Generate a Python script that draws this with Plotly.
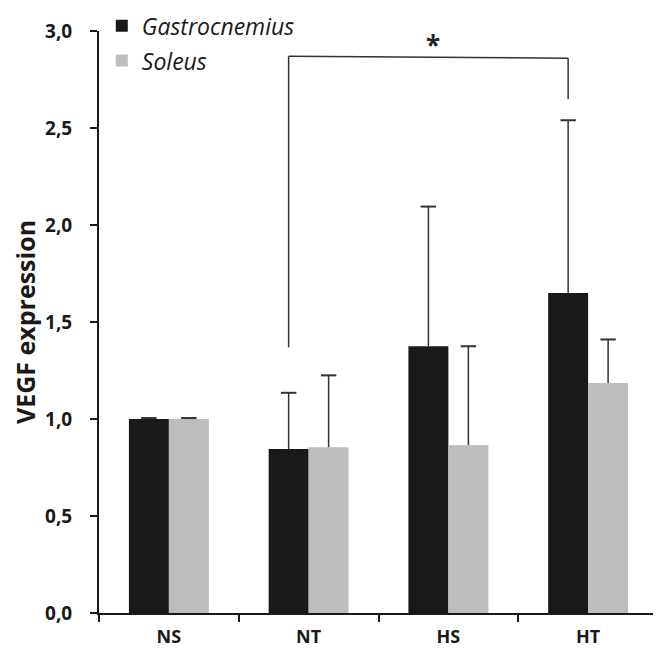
import plotly.graph_objects as go

categories = ["NS", "NT", "HS", "HT"]
gastro_mean = [1.0, 0.845, 1.375, 1.65]
gastro_err = [0.005, 0.29, 0.72, 0.89]
soleus_mean = [1.0, 0.855, 0.865, 1.185]
soleus_err = [0.005, 0.37, 0.51, 0.225]
y_ticks = [0, 0.5, 1.0, 1.5, 2.0, 2.5, 3.0]

BARGAP = 0.428
half = (1 - BARGAP) / 4  # offset of each bar center from category center
idx = list(range(len(categories)))

fig = go.Figure()
fig.add_trace(go.Bar(
    x=categories, y=gastro_mean, name="Gastrocnemius",
    marker=dict(color="#1a1918", line=dict(width=0)),
    legendgroup="g",
))
fig.add_trace(go.Bar(
    x=categories, y=soleus_mean, name="Soleus",
    marker=dict(color="#bcbdbf", line=dict(width=0)),
    legendgroup="s",
))

# upward-only error bars (stem + top cap) on an overlaid numeric axis
for means, errs, sign in [(gastro_mean, gastro_err, -1), (soleus_mean, soleus_err, 1)]:
    fig.add_trace(go.Scatter(
        x=[i + sign * half for i in idx],
        y=[m + e for m, e in zip(means, errs)],
        xaxis="x2", mode="markers", showlegend=False, hoverinfo="skip",
        marker=dict(symbol="line-ew", size=11, color="#333333",
                    line=dict(color="#333333", width=2)),
        error_y=dict(type="data", symmetric=False, array=[0] * len(errs), arrayminus=errs,
                     color="#333333", thickness=1.5, width=0),
    ))

# significance bracket NT (gastro) vs HT (gastro)
xl = 1 - half
xr = 3 - half
bracket_top = 2.87
line_style = dict(color="#333333", width=1.5)
fig.add_shape(type="line", xref="x2", yref="y", x0=xl, x1=xl, y0=1.37, y1=bracket_top, line=line_style)
fig.add_shape(type="line", xref="x2", yref="y", x0=xl, x1=xr, y0=bracket_top, y1=bracket_top - 0.01, line=line_style)
fig.add_shape(type="line", xref="x2", yref="y", x0=xr, x1=xr, y0=bracket_top - 0.01, y1=2.65, line=line_style)
fig.add_annotation(x=(xl + xr) / 2 + 0.036, y=2.93, xref="x2", yref="y", text="<b>*</b>",
                   showarrow=False, font=dict(size=26, color="#222222", family="Open Sans"))

fig.update_layout(
    width=653, height=643,
    margin=dict(l=91, r=3, t=23, b=38, autoexpand=False),
    paper_bgcolor="white", plot_bgcolor="white",
    separators=",.",
    barmode="group", bargap=BARGAP, bargroupgap=0,
    font=dict(family="Open Sans", color="#1a1a1a"),
    showlegend=True,
    legend=dict(
        x=0.005, y=1.046, xanchor="left", yanchor="top",
        font=dict(size=23, style="italic", color="#1a1a1a"),
        traceorder="grouped", tracegroupgap=2,
        bgcolor="rgba(0,0,0,0)", itemwidth=30,
    ),
    xaxis=dict(
        range=[-0.5, 3.5], automargin=False,
        showline=True, linecolor="#1a1a1a", linewidth=2,
        ticks="outside", tickson="boundaries", ticklen=7, tickwidth=2, tickcolor="#1a1a1a",
        showgrid=False, ticklabelstandoff=6,
        tickfont=dict(size=18, family="Open Sans", weight="bold", color="#1a1a1a"),
    ),
    xaxis2=dict(overlaying="x", range=[-0.5, 3.5], visible=False),
    yaxis=dict(
        range=[0, 3], tickvals=y_ticks, tickformat=".1f", automargin=False,
        showline=True, linecolor="#1a1a1a", linewidth=2,
        ticks="outside", ticklen=7, tickwidth=2, tickcolor="#1a1a1a",
        showgrid=False, zeroline=False, ticklabelstandoff=14,
        tickfont=dict(size=19, family="Open Sans", weight="bold", color="#1a1a1a"),
        title=dict(text="<b>VEGF expression</b>", font=dict(size=25, family="Open Sans", color="#1a1a1a"), standoff=2),
    ),
)

fig.write_html("out.html")
